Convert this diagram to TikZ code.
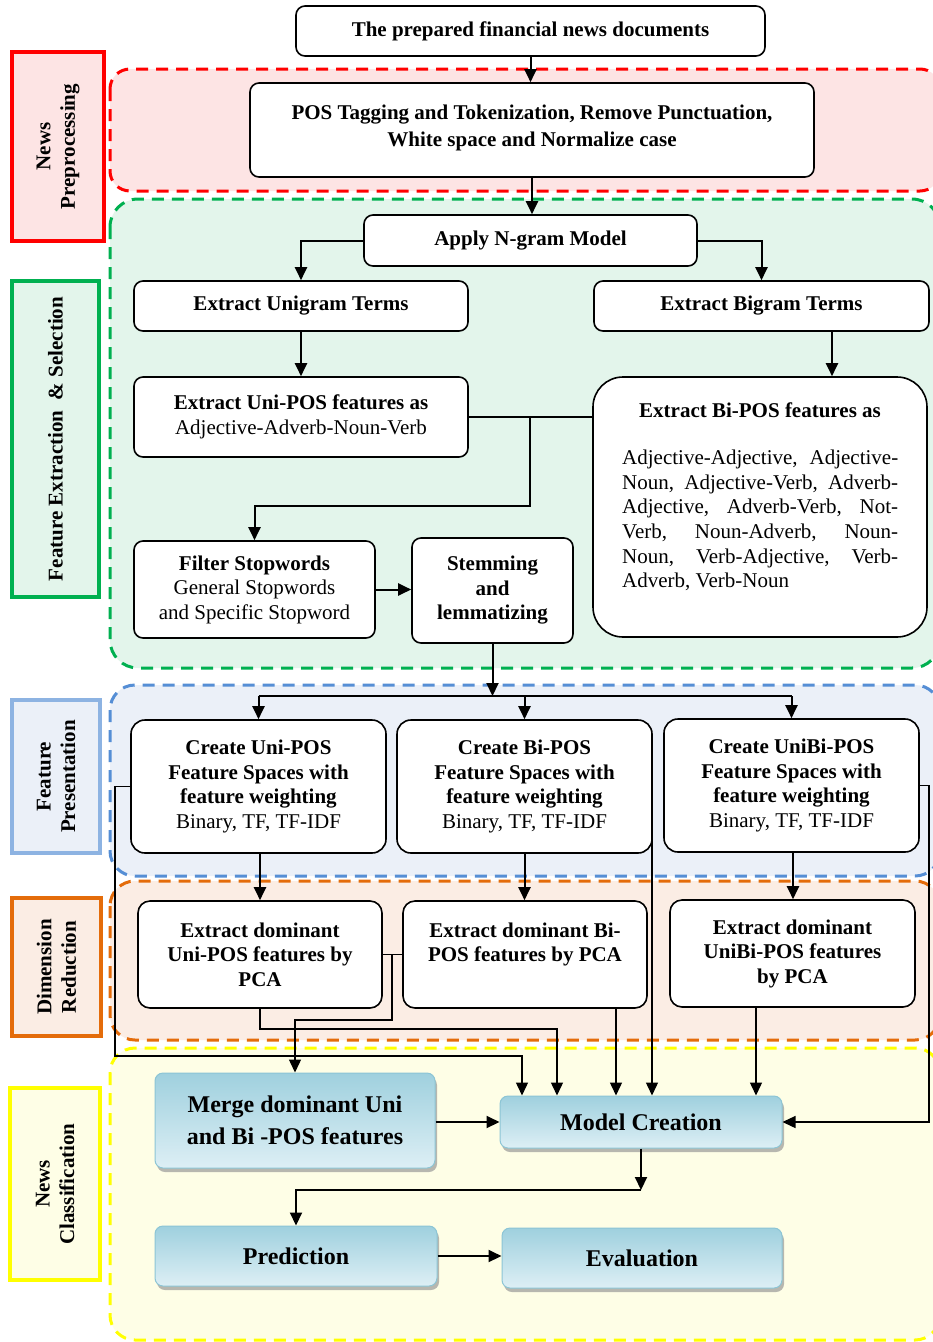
\documentclass[tikz,border=0pt]{standalone}
\usepackage{fontspec}
\newfontfamily\tnr{Liberation Serif}
\usetikzlibrary{arrows.meta,shadows}
\definecolor{redF}{HTML}{FDE4E4}
\definecolor{greenF}{HTML}{E3F5EB}
\definecolor{blueF}{HTML}{EBF0F8}
\definecolor{orangeF}{HTML}{FBEDE4}
\definecolor{yellowF}{HTML}{FEFEE6}
\definecolor{redD}{HTML}{FF0000}
\definecolor{greenD}{HTML}{00B050}
\definecolor{blueD}{HTML}{558ED5}
\definecolor{blueL}{HTML}{8DB3E2}
\definecolor{orangeD}{HTML}{E46C0A}
\definecolor{yellowD}{HTML}{FFFF00}
\definecolor{btnTop}{HTML}{9FD0DE}
\definecolor{btnBot}{HTML}{DDEFF5}
\definecolor{btnEdge}{HTML}{8CC5D5}
\newcommand\lightx[1]{{\tnr\mdseries\fontsize{21}{24.5}\selectfont #1}}
\tikzset{
  grp/.style={line width=3pt, rounded corners=20pt, dash pattern=on 12pt off 8pt},
  lab/.style={line width=3.5pt, rotate=90, inner sep=0pt, align=center,
    font=\tnr\bfseries\fontsize{21}{24.5}\selectfont},
  box/.style={draw, line width=1.6pt, rounded corners=9pt, fill=white, align=center,
    inner sep=0pt, font=\tnr\bfseries\fontsize{21}{24.5}\selectfont},
  btn/.style={draw=btnEdge, line width=1pt, rounded corners=8pt, top color=btnTop,
    bottom color=btnBot, align=center, inner sep=0pt,
    font=\tnr\bfseries\fontsize{24}{32}\selectfont,
    drop shadow={shadow xshift=2pt, shadow yshift=-4pt, fill=black!40, opacity=0.7}},
  arr/.style={line width=2pt, -{Triangle[length=13pt,width=12pt]}},
  tarr/.style={line width=1.4pt, -{Triangle[length=13pt,width=12pt]}},
  ln/.style={line width=2pt},
  tln/.style={line width=1.4pt},
}
\begin{document}
\begin{tikzpicture}[x=1pt,y=-1pt]
\clip (0,0) rectangle (933,1342);
\fill[white] (0,0) rectangle (933,1342);
% groups
\draw[grp, draw=redD, fill=redF] (110,69) rectangle (940,191);
\draw[grp, rounded corners=28pt, draw=greenD, fill=greenF] (110,199) rectangle (940,668);
\draw[grp, rounded corners=25pt, draw=blueD, fill=blueF] (110,685) rectangle (940,876);
\draw[grp, rounded corners=25pt, draw=orangeD, fill=orangeF] (110,881) rectangle (940,1040);
\draw[grp, rounded corners=25pt, draw=yellowD, fill=yellowF] (110,1048) rectangle (940,1340);
% labels
\node[lab, draw=redD, fill=redF, minimum width=189pt, minimum height=92pt] (npL) at (58,146.5) {News\\Preprocessing};
\node[lab, draw=greenD, fill=greenF, minimum width=316pt, minimum height=87pt] (feL) at (55.5,439) {Feature Extraction \ \&\ Selection};
\node[lab, draw=blueL, fill=blueF, minimum width=153pt, minimum height=88pt] (fpL) at (56,776.5) {Feature\\Presentation};
\node[lab, draw=orangeD, fill=orangeF, minimum width=138pt, minimum height=89pt] (drL) at (56.5,967) {Dimension\\Reduction};
\node[lab, draw=yellowD, fill=yellowF, minimum width=192pt, minimum height=90pt] (ncL) at (55,1184) {News\\Classification};
% nodes
\node[box, minimum width=469pt, minimum height=50pt] (top) at (530.5,31) {The prepared financial news documents};
\node[box, minimum width=564pt, minimum height=94pt, font=\tnr\bfseries\fontsize{21}{27}\selectfont] (pos) at (532,130) {POS Tagging and Tokenization, Remove Punctuation,\\White space and Normalize case\\[-19pt]\mbox{}};
\node[box, minimum width=333pt, minimum height=51pt] (ngram) at (530.5,240.5) {Apply N-gram Model};
\node[box, minimum width=334pt, minimum height=50pt] (uniT) at (301,306) {Extract Unigram Terms};
\node[box, minimum width=335pt, minimum height=50pt] (biT) at (761.5,306) {Extract Bigram Terms};
\node[box, minimum width=334pt, minimum height=80pt] (uniPOS) at (301,417) {Extract Uni-POS features as\\\lightx{Adjective-Adverb-Noun-Verb}};
\node[box, rounded corners=30pt, minimum width=334pt, minimum height=260pt] (biPOS) at (760,507) {};
\node[font=\tnr\bfseries\fontsize{21}{24.5}\selectfont, inner sep=0pt] (biTitle) at (760,410) {Extract Bi-POS features as};
\node[anchor=north west, inner sep=0pt, align=left, font=\tnr\fontsize{21}{24.6}\selectfont] (biList) at (622,450) {%
\makebox[276pt][s]{Adjective-Adjective, Adjective-}\\
\makebox[276pt][s]{Noun, Adjective-Verb, Adverb-}\\
\makebox[276pt][s]{Adjective, Adverb-Verb, Not-}\\
\makebox[276pt][s]{Verb, Noun-Adverb, Noun-}\\
\makebox[276pt][s]{Noun, Verb-Adjective, Verb-}\\
Adverb, Verb-Noun};
\node[box, minimum width=241pt, minimum height=97pt] (filter) at (254.5,589.5) {Filter Stopwords\\\lightx{General Stopwords}\\\lightx{and Specific Stopword}};
\node[box, minimum width=161pt, minimum height=105pt] (stem) at (492.5,590.5) {Stemming\\and\\lemmatizing};
\node[box, rounded corners=14pt, minimum width=255pt, minimum height=133pt] (cUni) at (258.5,786.5) {Create Uni-POS\\Feature Spaces with\\feature weighting\\\lightx{Binary, TF, TF-IDF}};
\node[box, rounded corners=14pt, minimum width=255pt, minimum height=133pt] (cBi) at (524.5,786.5) {Create Bi-POS\\Feature Spaces with\\feature weighting\\\lightx{Binary, TF, TF-IDF}};
\node[box, rounded corners=14pt, minimum width=255pt, minimum height=133pt] (cUniBi) at (791.5,785.5) {Create UniBi-POS\\Feature Spaces with\\feature weighting\\\lightx{Binary, TF, TF-IDF}};
\node[box, rounded corners=12pt, minimum width=244pt, minimum height=107pt] (pUni) at (260,954.5) {Extract dominant\\Uni-POS features by\\PCA};
\node[box, rounded corners=12pt, minimum width=244pt, minimum height=107pt] (pBi) at (525,954.5) {Extract dominant Bi-\\POS features by PCA\\~};
\node[box, rounded corners=12pt, minimum width=245pt, minimum height=107pt] (pUniBi) at (792.5,953.5) {Extract dominant\\UniBi-POS features\\by PCA};
\node[btn, minimum width=280pt, minimum height=95pt] (merge) at (295,1120.5) {Merge dominant Uni\\and Bi -POS features};
\node[btn, minimum width=282pt, minimum height=52pt] (mc) at (641,1122) {Model Creation};
\node[btn, minimum width=282pt, minimum height=60pt] (pred) at (296,1256) {Prediction};
\node[btn, minimum width=280pt, minimum height=60pt] (eval) at (642,1258) {Evaluation};
% connectors
\draw[arr] (top.south) -- (top.south |- pos.north);
\draw[arr] (pos.south) -- (pos.south |- ngram.north);
\draw[arr] (ngram.west) -| (uniT.north);
\draw[arr] (ngram.east) -| (biT.north);
\draw[arr] (uniT.south) -- (uniPOS.north);
\draw[arr] ([xshift=70.5pt]biT.south) -- ([xshift=70.5pt]biT.south |- biPOS.north);
\draw[tln] (uniPOS.east) -- (uniPOS.east -| biPOS.west);
\coordinate (j1) at (530,417);
\coordinate (j2) at (530,506);
\draw[arr] (j1) -- (j2) -| (filter.north);
\draw[arr] (filter.east) -- (filter.east -| stem.west);
\coordinate (j3) at (492.5,696);
\draw[arr] (stem.south) -- (j3);
\draw[ln] (cUni.north |- j3) -- (cUniBi.north |- j3);
\draw[arr] (cUni.north |- j3) -- (cUni.north);
\draw[arr] (cBi.north |- j3) -- (cBi.north);
\draw[arr] (cUniBi.north |- j3) -- (cUniBi.north);
\draw[arr] ([xshift=1.5pt]cUni.south) -- ([xshift=1.5pt]cUni.south |- pUni.north);
\draw[arr] (cBi.south) -- (cBi.south |- pBi.north);
\draw[arr] ([xshift=1.5pt]cUniBi.south) -- ([xshift=1.5pt]cUniBi.south |- pUniBi.north);
% dimension reduction -> classification
\coordinate (a1) at (260,1029);
\coordinate (a2) at (557,1029);
\draw[tarr] (pUni.south) -- (a1) -- (a2) -- (a2 |- mc.north);
\draw[tln] (pUni.east) -- (pUni.east -| pBi.west);
\coordinate (b1) at (392,954.5);
\coordinate (b2) at (392,1020);
\coordinate (b3) at (295,1020);
\draw[tarr] (b1) -- (b2) -- (b3) -- (merge.north);
\coordinate (l1) at (115,786.5);
\coordinate (l2) at (115,1056);
\coordinate (l3) at (522,1056);
\draw[tarr] (cUni.west) -- (l1) -- (l2) -- (l3) -- (l3 |- mc.north);
\coordinate (r0) at (652,835);
\draw[tarr] (r0) -- (r0 |- mc.north);
\draw[tarr] ([xshift=91pt]pBi.south) -- ([xshift=91pt]pBi.south |- mc.north);
\draw[tarr] ([xshift=-36.5pt]pUniBi.south) -- ([xshift=-36.5pt]pUniBi.south |- mc.north);
\coordinate (rr1) at (929,785.5);
\coordinate (rr2) at (929,1122);
\draw[tarr] (cUniBi.east) -- (rr1) -- (rr2) -- (mc.east);
\draw[arr] (merge.east |- mc.west) -- (mc.west);
\coordinate (m1) at (641,1190);
\draw[arr] (mc.south) -- (m1);
\draw[arr] (m1) -| (pred.north);
\draw[arr] (pred.east) -- (pred.east -| eval.west);
\end{tikzpicture}
\end{document}
